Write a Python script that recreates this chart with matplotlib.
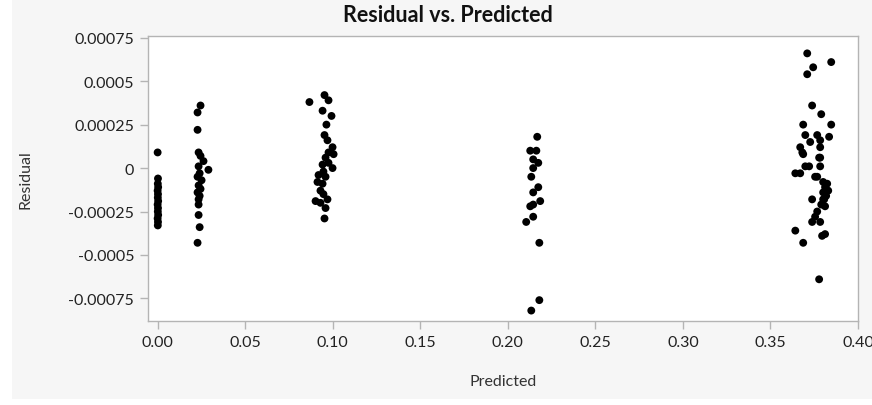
import numpy as np
import matplotlib
matplotlib.use('Agg')
import matplotlib.pyplot as plt
from matplotlib.patches import Rectangle

# residual data, one group per predicted level
pred_a = [0.0000, 0.0002, 0.0001, 0.0003, 0.0000, 0.0002, 0.0001, 0.0003, 0.0000, 0.0002, 0.0001, 0.0003, 0.0000, 0.0002, 0.0001]
resid_a = [0.00009, -0.00006, -0.00009, -0.00011, -0.00013, -0.00015, -0.00017, -0.00019, -0.00021, -0.00023, -0.00025, -0.00027, -0.00029, -0.00031, -0.00033]

pred_b = [0.0245, 0.0228, 0.0228, 0.0234, 0.0245, 0.0262, 0.0290, 0.0234, 0.0240, 0.0228, 0.0251, 0.0234, 0.0245, 0.0228, 0.0240, 0.0234, 0.0234, 0.0234, 0.0240, 0.0228]
resid_b = [0.00036, 0.00032, 0.00022, 0.00009, 0.00007, 0.00004, -0.00001, 0.00001, -0.00003, -0.00005, -0.00007, -0.00010, -0.00012, -0.00014, -0.00016, -0.00018, -0.00021, -0.00027, -0.00034, -0.00043]

pred_c = [0.0867, 0.0953, 0.0976, 0.0942, 0.0993, 0.0964, 0.0953, 0.0970, 0.0999, 0.0976, 0.1005, 0.0959, 0.0976, 0.0942, 0.0999, 0.0947, 0.0919, 0.0959, 0.0913, 0.0942, 0.0930, 0.0947, 0.0902, 0.0930, 0.0970, 0.0959, 0.0953]
resid_c = [0.00038, 0.00042, 0.00039, 0.00033, 0.00030, 0.00025, 0.00019, 0.00016, 0.00012, 0.00009, 0.00008, 0.00006, 0.00003, 0.00002, 0.00000, -0.00002, -0.00004, -0.00005, -0.00008, -0.00009, -0.00013, -0.00015, -0.00019, -0.00020, -0.00018, -0.00023, -0.00029]

pred_d = [0.2168, 0.2128, 0.2163, 0.2145, 0.2174, 0.2145, 0.2134, 0.2174, 0.2145, 0.2185, 0.2145, 0.2128, 0.2145, 0.2105, 0.2180, 0.2180, 0.2134]
resid_d = [0.00018, 0.00010, 0.00010, 0.00005, 0.00003, 0.00000, -0.00005, -0.00011, -0.00014, -0.00019, -0.00021, -0.00022, -0.00028, -0.00031, -0.00043, -0.00076, -0.00082]

pred_e = [0.3710, 0.3847, 0.3744, 0.3710, 0.3738, 0.3790, 0.3687, 0.3847, 0.3699, 0.3767, 0.3835, 0.3727, 0.3784, 0.3784, 0.3670, 0.3687, 0.3778,
          0.3682, 0.3784, 0.3699, 0.3721, 0.3784, 0.3642, 0.3670, 0.3755, 0.3801, 0.3812, 0.3830, 0.3801, 0.3818, 0.3807, 0.3738, 0.3801,
          0.3812, 0.3767, 0.3755, 0.3738, 0.3784, 0.3642, 0.3687, 0.3795, 0.3812, 0.3778, 0.3824, 0.3790, 0.3767]
resid_e = [0.00066, 0.00061, 0.00058, 0.00054, 0.00036, 0.00031, 0.00025, 0.00025, 0.00019, 0.00019, 0.00018, 0.00015, 0.00016, 0.00012, 0.00012, 0.00008, 0.00006,
           0.00009, 0.00006, 0.00001, 0.00001, 0.00001, -0.00003, -0.00003, -0.00005, -0.00008, -0.00011, -0.00013, -0.00014, -0.00016, -0.00018, -0.00018, -0.00018,
           -0.00022, -0.00025, -0.00028, -0.00031, -0.00031, -0.00036, -0.00043, -0.00039, -0.00038, -0.00064, -0.00009, -0.00021, -0.00005]

groups = [(pred_a, resid_a), (pred_b, resid_b), (pred_c, resid_c), (pred_d, resid_d), (pred_e, resid_e)]

xticks = [0.00, 0.05, 0.10, 0.15, 0.20, 0.25, 0.30, 0.35, 0.40]
xtick_labels = ['0.00', '0.05', '0.10', '0.15', '0.20', '0.25', '0.30', '0.35', '0.40']
yticks = [0.00075, 0.0005, 0.00025, 0, -0.00025, -0.0005, -0.00075]
ytick_labels = ['0.00075', '0.0005', '0.00025', '0', '-0.00025', '-0.0005', '-0.00075']

plt.rcParams['font.family'] = ['Lato', 'DejaVu Sans']

fig = plt.figure(figsize=(8.72, 4.06), dpi=100, facecolor='white')
fig.patches.append(Rectangle((12 / 872, 6 / 406), 1, 1, transform=fig.transFigure,
                             facecolor='#f6f6f6', edgecolor='none', zorder=-10))

ax = fig.add_axes([148 / 872, 84 / 406, 710 / 872, 285 / 406])
ax.set_facecolor('white')

for px, ry in groups:
    ax.scatter(px, ry, s=32, color='black', edgecolors='none', zorder=3)

ax.set_xlim(-0.0055, 0.4)
ax.set_ylim(-0.00088, 0.00076)
ax.set_xticks(xticks)
ax.set_xticklabels(xtick_labels)
ax.set_yticks(yticks)
ax.set_yticklabels(ytick_labels)

for s in ax.spines.values():
    s.set_color('#b4b4b4')
    s.set_linewidth(1.0)

ax.tick_params(axis='both', direction='out', length=6, width=1, color='#b4b4b4',
               labelsize=11.5, labelcolor='#222222', pad=4)

fig.text(448 / 872, 1 - 16 / 406, 'Residual vs. Predicted', fontsize=15.5, fontweight='bold',
         ha='center', va='center', color='#111111')
ax.set_xlabel('Predicted', fontsize=11.5, color='#333333', labelpad=18)
ax.set_ylabel('Residual', fontsize=11.5, color='#333333')
ax.yaxis.set_label_coords(-116 / 710, 0.5)

fig.savefig('out.png', dpi=100, facecolor=fig.get_facecolor())
